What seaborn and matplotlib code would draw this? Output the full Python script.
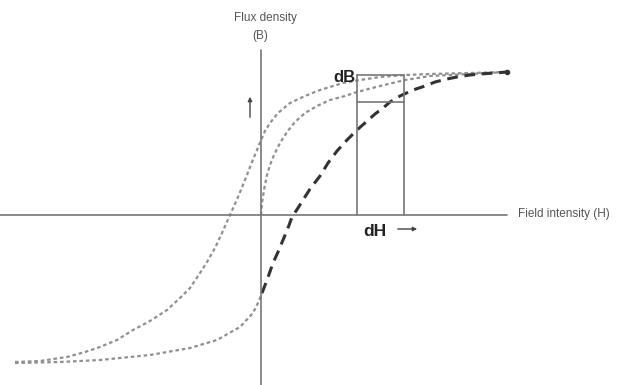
import numpy as np
import pandas as pd
import matplotlib
matplotlib.use("Agg")
import matplotlib.pyplot as plt
import seaborn as sns

# curves (H, B in arbitrary units, origin at axes crossing)
upper_H = [-246, -221, -194, -176, -161, -144, -128, -111, -94, -81, -71, -61, -54, -46, -39, -31,
           -23, -16, -9, -4, 0, 4, 9, 17, 29, 44, 59, 82, 99, 119, 144, 169, 209, 246]
upper_B = [-147, -146, -142, -137, -132, -125, -115, -106, -95, -83, -73, -58, -47, -33, -18, 0,
           18, 35, 53, 65, 75, 84, 92, 102, 112, 119, 125, 132, 135, 138, 140, 141, 142, 143]

lower_H = [-246, -201, -161, -111, -71, -44, -21, -8, -3, 1]
lower_B = [-148, -147, -145, -140, -133, -125, -112, -98, -88, -78]

rise_H = [1, 6, 12, 17, 22, 27, 31, 37, 42, 49, 59, 67, 76, 86, 96, 105, 114, 122, 129, 139,
          152, 164, 174, 186, 196, 209, 219, 234, 246]
rise_B = [-78, -65, -48, -37, -25, -13, -2, 7, 15, 26, 39, 52, 64, 75, 85, 93, 101, 107, 113, 119,
          125, 129, 133, 136, 138, 140, 141, 142, 143]

init_H = [0, 1, 3, 6, 9, 13, 19, 26, 34, 44, 56, 69, 84, 96, 119, 144, 169, 209, 246]
init_B = [0, 12, 25, 40, 50, 60, 72, 83, 93, 102, 109, 115, 119, 123, 129, 135, 139, 141, 143]

dH_span = [96, 143]
dB_span = [113, 140]

sns.set_style("white")
plt.rcParams['font.family'] = ['Liberation Sans', 'DejaVu Sans']

fig = plt.figure(figsize=(6.29, 3.85), dpi=100)
ax = fig.add_axes([0, 0, 1, 1])

dot_col = "#8f8f8f"
dots = (0, (1.6, 1.3))
sns.lineplot(x=upper_H, y=upper_B, ax=ax, color=dot_col, lw=1.6, ls=dots, sort=False)
sns.lineplot(x=lower_H, y=lower_B, ax=ax, color=dot_col, lw=1.6, ls=dots, sort=False)
sns.lineplot(x=init_H, y=init_B, ax=ax, color=dot_col, lw=1.6, ls=dots, sort=False)
sns.lineplot(x=rise_H, y=rise_B, ax=ax, color="#333333", lw=2.2, ls=(0, (3.5, 2.2)), sort=False)
ax.plot(rise_H[-1], rise_B[-1], 'o', color="#333333", ms=3)

# axes lines
ax.plot([-261, 246], [0, 0], color="#777777", lw=1.2)
ax.plot([0, 0], [165, -170], color="#777777", lw=1.2)

# dH / dB box
box_col = "#777777"
for h in dH_span:
    ax.plot([h, h], [0, dB_span[1]], color=box_col, lw=1.2)
ax.plot(dH_span, [dB_span[1], dB_span[1]], color=box_col, lw=1.2)
ax.plot(dH_span, [dB_span[0], dB_span[0]], color=box_col, lw=1.2)

ax.text(4, 197, "Flux density", ha="center", va="center", fontsize=8.5, color="#555555")
ax.text(-1, 179, "(B)", ha="center", va="center", fontsize=8.5, color="#555555")
ax.text(257, 1, "Field intensity (H)", ha="left", va="center", fontsize=8.5, color="#555555")
ax.text(95, 137, "dB", ha="right", va="center", fontsize=12, fontweight="bold", color="#222222")
ax.text(114, -16, "dH", ha="center", va="center", fontsize=12.5, fontweight="bold", color="#222222")
ax.annotate("", xy=(159, -14), xytext=(134, -14),
            arrowprops=dict(arrowstyle="-|>", color="#444444", lw=1, mutation_scale=6))
ax.annotate("", xy=(-11, 121), xytext=(-11, 95),
            arrowprops=dict(arrowstyle="-|>", color="#444444", lw=1, mutation_scale=6))

ax.set_xlim(-261, 368)
ax.set_ylim(-170, 215)
ax.axis("off")

fig.savefig("out.png", dpi=100)
